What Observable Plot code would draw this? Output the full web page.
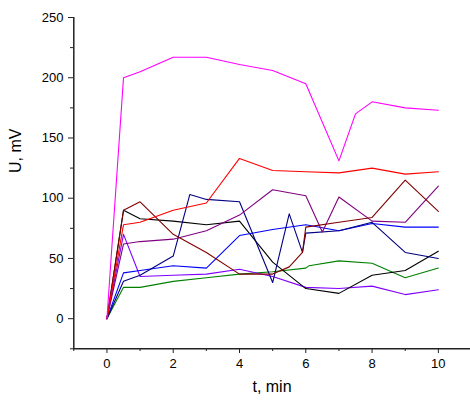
<!DOCTYPE html>
<html><head><meta charset="utf-8">
<script src="https://cdn.jsdelivr.net/npm/d3@7"></script>
<script src="https://cdn.jsdelivr.net/npm/@observablehq/plot@0.6"></script>
<style>body{margin:0;background:#fff} svg{display:block}</style>
</head><body><div id="chart"></div>
<script>
// ---- data ----
const magentaT = [0,0.5,1,2,3,4,5,6,7,7.5,8,9,10];
const magentaU = [0,200,205,217,217,211,206,195,131,170,180,175,173];
const redT = [0,0.5,1,2,3,4,5,6,7,8,9,10];
const redU = [0,78,80,90,96,133,123,122,121,125,120,122];
const maroonT = [0,0.5,1,2,3,4,5,5.5,5.9,6,7,8,9,10];
const maroonU = [0,90,97,70,55,37,37,43,55,76,80,84,115,89];
const purpleT = [0,0.5,1,2,3,4,5,6,6.5,7,8,9,10];
const purpleU = [0,62,64,66,73,86,107,102,72,101,81,80,110];
const blackT = [0,0.5,1,2,3,4,5,6,7,8,9,10];
const blackU = [0,90,83,81,78,81,47,25,21,36,40,56];
const blueT = [0,0.5,1,2,3,4,5,6,7,8,9,10];
const blueU = [0,38,40,44,42,69,74,78,73,79,76,76];
const navyT = [0,0.5,1,2,2.5,3,4,5,5.5,5.9,6,7,8,9,10];
const navyU = [0,31,36,52,103,99,97,30,87,55,71,73,80,55,50];
const violetT = [0,0.5,1,2,3,4,5,6,7,8,9,10];
const violetU = [0,70,35,36,37,41,35,26,25,27,20,24];
const greenT = [0,0.5,1,2,3,4,5,6,6.1,7,8,9,10];
const greenU = [0,26,26,31,34,37,39,42,44,48,46,34,42];

const xMajor = [0,2,4,6,8,10];
const xMinor = [-1,1,3,5,7,9,11];
const yMajor = [0,50,100,150,200,250];
const yMinor = [-25,25,75,125,175,225];

const series = [
  {t: greenT, u: greenU, color: "#008000"},
  {t: violetT, u: violetU, color: "#8000ff"},
  {t: blackT, u: blackU, color: "#000000"},
  {t: blueT, u: blueU, color: "#0000ff"},
  {t: navyT, u: navyU, color: "#000080"},
  {t: purpleT, u: purpleU, color: "#800080"},
  {t: maroonT, u: maroonU, color: "#800000"},
  {t: redT, u: redU, color: "#ff0000"},
  {t: magentaT, u: magentaU, color: "#ff00ff"}
];

const lineMarks = series.map(s =>
  Plot.line(s.t.map((t, i) => ({t, u: s.u[i]})), {x: "t", y: "u", stroke: s.color, strokeWidth: 1.1})
);

const axisColor = "#222";
const chart = Plot.plot({
  width: 470, height: 403,
  marginLeft: 73, marginRight: 0, marginTop: 17, marginBottom: 55,
  style: {fontFamily: "'Liberation Sans', Arial, sans-serif", fontSize: "13px", color: "#000", background: "#fff"},
  x: {domain: [-1, 11], range: [73.3, 471]},
  y: {domain: [-25, 250], range: [348.3, 17]},
  marks: [
    Plot.axisX({ticks: xMajor, tickSize: 5, tickPadding: 5, label: null, fontSize: 13, stroke: axisColor, strokeOpacity: 1}),
    Plot.axisX({ticks: xMinor, tickSize: 3, tickFormat: () => "", label: null, stroke: axisColor, strokeOpacity: 1}),
    Plot.axisY({ticks: yMajor, tickSize: 5, tickPadding: 5, label: null, fontSize: 13, stroke: axisColor, strokeOpacity: 1}),
    Plot.axisY({ticks: yMinor, tickSize: 3, tickFormat: () => "", label: null, stroke: axisColor, strokeOpacity: 1}),
    Plot.ruleX([-1], {stroke: axisColor, strokeWidth: 1.5}),
    Plot.ruleY([-25], {stroke: axisColor, strokeWidth: 1.5}),
    ...lineMarks,
    Plot.text(["t, min"], {frameAnchor: "bottom", dy: 43, fontSize: 16, fill: "#000"}),
    Plot.text(["U, mV"], {frameAnchor: "left", rotate: -90, dx: -58, dy: -10, fontSize: 16, fill: "#000"})
  ]
});
document.getElementById("chart").appendChild(chart);
</script>
</body></html>
